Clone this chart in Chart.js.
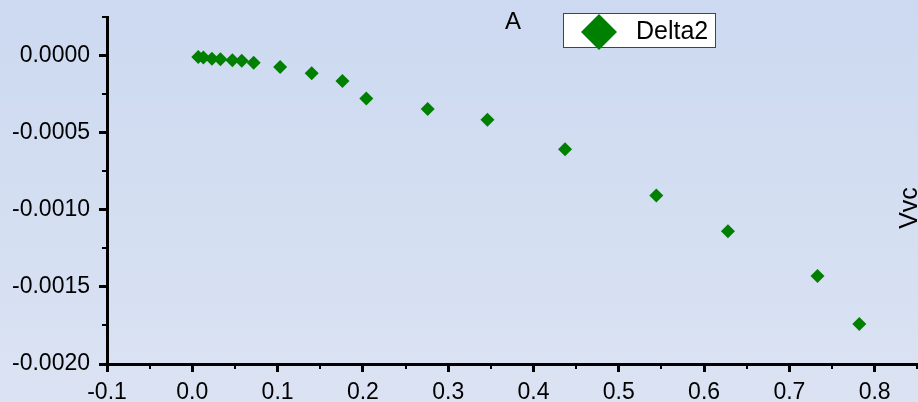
<!DOCTYPE html>
<html>
<head>
<meta charset="utf-8">
<title>Delta2</title>
<script src="https://cdn.jsdelivr.net/npm/chart.js@4"></script>
<style>
  html, body { margin: 0; padding: 0; background: #d4def2; }
  #chart { display: block; }
</style>
</head>
<body>
<canvas id="chart" width="918" height="402"></canvas>
<script>
const seriesLabel = "Delta2";
const xValues = [0.007, 0.013, 0.023, 0.033, 0.047, 0.058, 0.072, 0.103, 0.14, 0.176, 0.204, 0.276, 0.346, 0.437, 0.544, 0.628, 0.733, 0.782];
const yValues = [-0.000009, -0.000013, -0.00002, -0.000024, -0.000031, -0.000033, -0.000046, -0.000074, -0.000115, -0.000165, -0.000279, -0.000347, -0.000416, -0.000608, -0.000907, -0.00114, -0.00143, -0.00174];
const xTicks = [-0.1, 0, 0.1, 0.2, 0.3, 0.4, 0.5, 0.6, 0.7, 0.8];
const xMinorTicks = [-0.05, 0.05, 0.15, 0.25, 0.35, 0.45, 0.55, 0.65, 0.75, 0.85];
const yTicks = [-0.002, -0.0015, -0.001, -0.0005, 0];
const yMinorTicks = [-0.00175, -0.00125, -0.00075, -0.00025, 0.00025];

const FONT = "'Liberation Sans', Arial, sans-serif";
const green = "#008000";

// фон, мелкие засечки, подписи и легенда
const decorPlugin = {
  id: "decor",
  beforeDraw(chart) {
    const ctx = chart.ctx;
    const g = ctx.createLinearGradient(0, 0, 0, chart.height);
    g.addColorStop(0, "#ccd9f0");
    g.addColorStop(1, "#dbe3f3");
    ctx.save();
    ctx.fillStyle = g;
    ctx.fillRect(0, 0, chart.width, chart.height);
    ctx.restore();
  },
  afterDraw(chart) {
    const ctx = chart.ctx;
    const x = chart.scales.x;
    const y = chart.scales.y;
    const area = chart.chartArea;

    ctx.save();
    ctx.strokeStyle = "#000";
    ctx.lineWidth = 2;
    xMinorTicks.forEach((v) => {
      const px = Math.round(x.getPixelForValue(v));
      ctx.beginPath();
      ctx.moveTo(px, area.bottom);
      ctx.lineTo(px, area.bottom + 5);
      ctx.stroke();
    });
    yMinorTicks.forEach((v) => {
      const py = Math.round(y.getPixelForValue(v));
      ctx.beginPath();
      ctx.moveTo(area.left, py);
      ctx.lineTo(area.left - 5, py);
      ctx.stroke();
    });

    // заголовок "A"
    ctx.fillStyle = "#000";
    ctx.font = "24px " + FONT;
    ctx.textAlign = "center";
    ctx.textBaseline = "middle";
    ctx.fillText("A", 513, 22);

    // легенда
    ctx.fillStyle = "#fff";
    ctx.fillRect(563.5, 13.5, 152, 34);
    ctx.strokeStyle = "#444";
    ctx.lineWidth = 1;
    ctx.strokeRect(563.5, 13.5, 152, 34);
    ctx.fillStyle = green;
    ctx.beginPath();
    ctx.moveTo(599, 14);
    ctx.lineTo(617, 32);
    ctx.lineTo(599, 50);
    ctx.lineTo(581, 32);
    ctx.closePath();
    ctx.fill();
    ctx.fillStyle = "#000";
    ctx.textAlign = "left";
    ctx.font = "25px " + FONT;
    ctx.fillText(seriesLabel, 636, 32);

    // подпись справа
    ctx.translate(910, 208);
    ctx.rotate(-Math.PI / 2);
    ctx.font = "25px " + FONT;
    ctx.textAlign = "center";
    ctx.fillText("Vvc", 0, 0);
    ctx.restore();
  },
};

function render() {
  const points = xValues.map((v, i) => ({ x: v, y: yValues[i] }));

  new Chart(document.getElementById("chart"), {
    type: "scatter",
    data: {
      datasets: [
        {
          label: seriesLabel,
          data: points,
          pointStyle: "rectRot",
          pointRadius: 7,
          pointHoverRadius: 7,
          backgroundColor: green,
          borderColor: green,
          borderWidth: 0,
        },
      ],
    },
    options: {
      responsive: false,
      animation: false,
      devicePixelRatio: 1,
      layout: {
        autoPadding: false,
        padding: { top: 17, left: 0, right: 0, bottom: 0 },
      },
      plugins: {
        legend: { display: false },
        tooltip: { enabled: false },
      },
      scales: {
        x: {
          type: "linear",
          min: -0.1,
          max: 0.8508,
          afterBuildTicks: (s) => { s.ticks = xTicks.map((v) => ({ value: v })); },
          afterFit: (s) => {
            s.height = 38;
            s.paddingLeft = 0;
            s.paddingRight = 0;
          },
          ticks: {
            color: "#000",
            font: { size: 23, family: FONT },
            padding: 7,
            maxRotation: 0,
            callback: (v) => v.toFixed(1),
          },
          grid: {
            drawOnChartArea: false,
            tickLength: 8,
            tickWidth: 3,
            tickColor: "#000",
          },
          border: { display: true, color: "#000", width: 3 },
        },
        y: {
          type: "linear",
          min: -0.002,
          max: 0.00025,
          afterBuildTicks: (s) => { s.ticks = yTicks.map((v) => ({ value: v })); },
          afterFit: (s) => {
            s.width = 107;
            s.paddingTop = 0;
            s.paddingBottom = 0;
          },
          ticks: {
            color: "#000",
            font: { size: 23, family: FONT },
            padding: 9,
            callback: (v) => v.toFixed(4),
          },
          grid: {
            drawOnChartArea: false,
            tickLength: 8,
            tickWidth: 3,
            tickColor: "#000",
          },
          border: { display: true, color: "#000", width: 3 },
        },
      },
    },
    plugins: [decorPlugin],
  });
}

document.addEventListener("DOMContentLoaded", render);
</script>
</body>
</html>
